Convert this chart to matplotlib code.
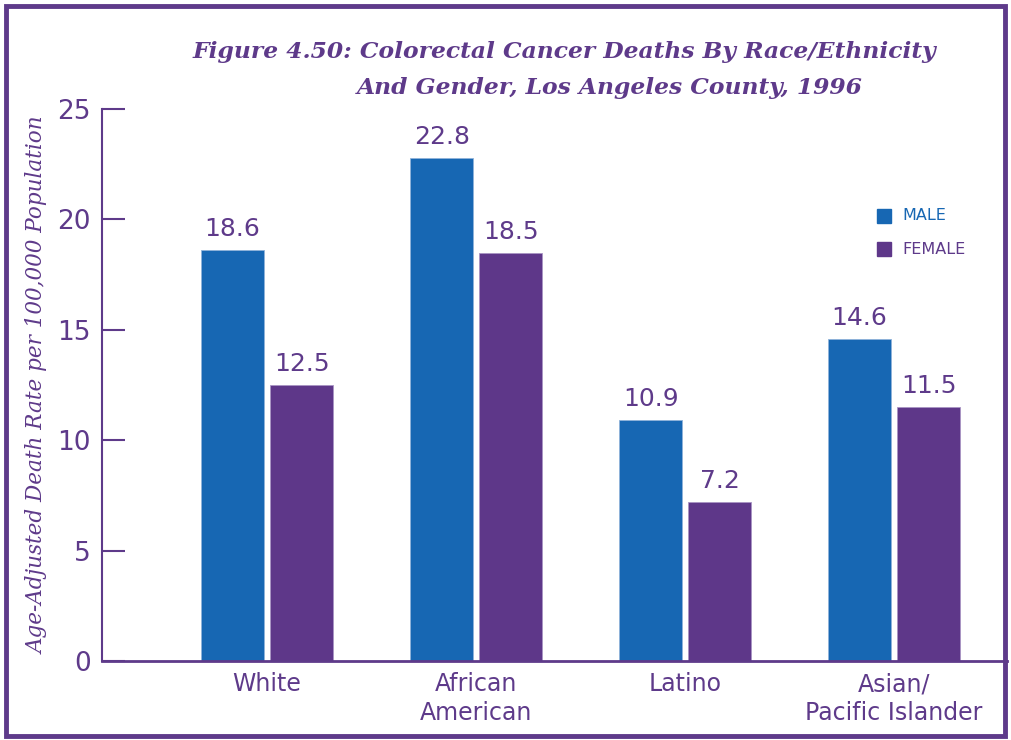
import matplotlib.pyplot as plt
from matplotlib.patches import Rectangle
import numpy as np

# data
categories = ['White', 'African\nAmerican', 'Latino', 'Asian/\nPacific Islander']
male = [18.6, 22.8, 10.9, 14.6]
female = [12.5, 18.5, 7.2, 11.5]
yticks = [0, 5, 10, 15, 20, 25]

purple = '#5E3A8A'
blue = '#1767B3'
barpurple = '#5E3789'

fig = plt.figure(figsize=(10.11, 7.40), dpi=100)
ax = fig.add_axes([102/1011, 1 - 661/740, 905/1011, (661 - 109)/740])

x = np.arange(len(categories))
w = 0.30
ax.bar(x - 0.165, male, width=w, color=blue, edgecolor='#8FB3DA', linewidth=0.6, zorder=2)
ax.bar(x + 0.165, female, width=w, color=barpurple, edgecolor='#A995C4', linewidth=0.6, zorder=2)

for i in range(len(categories)):
    ax.text(x[i] - 0.165, male[i] + 0.4, '%.1f' % male[i], ha='center', va='bottom',
            fontsize=18, color=purple)
    ax.text(x[i] + 0.165, female[i] + 0.4, '%.1f' % female[i], ha='center', va='bottom',
            fontsize=18, color=purple)

ax.set_xlim(-0.79, 3.54)
ax.set_ylim(0, 25)
ax.set_yticks(yticks)
ax.set_yticklabels([str(t) for t in yticks], fontsize=19, color=purple)
ax.tick_params(axis='y', direction='in', length=16.5, width=1.5, color=purple, pad=8)
ax.set_xticks(x)
ax.set_xticklabels(categories, fontsize=17, color=purple, linespacing=1.25)
ax.tick_params(axis='x', length=0, pad=8)

for s in ['top', 'right']:
    ax.spines[s].set_visible(False)
ax.spines['left'].set_color(purple)
ax.spines['left'].set_linewidth(1.5)
ax.spines['bottom'].set_color(purple)
ax.spines['bottom'].set_linewidth(2)

fig.text(38/1011, 1 - 385/740, 'Age-Adjusted Death Rate per 100,000 Population',
         rotation=90, ha='center', va='center', fontsize=15.5,
         family='DejaVu Serif', style='italic', color=purple)

# legend drawn by hand to match the square markers
fig.patches.append(Rectangle((877/1011, 1 - 223/740), 14/1011, 14/740,
                             transform=fig.transFigure, color=blue))
fig.patches.append(Rectangle((877/1011, 1 - 256/740), 14/1011, 14/740,
                             transform=fig.transFigure, color=barpurple))
fig.text(902/1011, 1 - 216/740, 'MALE', fontsize=11.5, color=blue, va='center')
fig.text(902/1011, 1 - 249/740, 'FEMALE', fontsize=11.5, color=purple, va='center')

fig.text(564/1011, 1 - 52/740, 'Figure 4.50: Colorectal Cancer Deaths By Race/Ethnicity',
         ha='center', va='center', fontsize=16.8, family='DejaVu Serif', style='italic',
         weight='bold', color=purple)
fig.text(610/1011, 1 - 88/740, 'And Gender, Los Angeles County, 1996',
         ha='center', va='center', fontsize=16.8, family='DejaVu Serif', style='italic',
         weight='bold', color=purple)

# purple frame round the whole chart
fig.patches.append(Rectangle((6/1011, 4/740), 999/1011, 730/740, transform=fig.transFigure,
                             fill=False, edgecolor=purple, linewidth=3.5))

fig.savefig('out.png', dpi=100)
